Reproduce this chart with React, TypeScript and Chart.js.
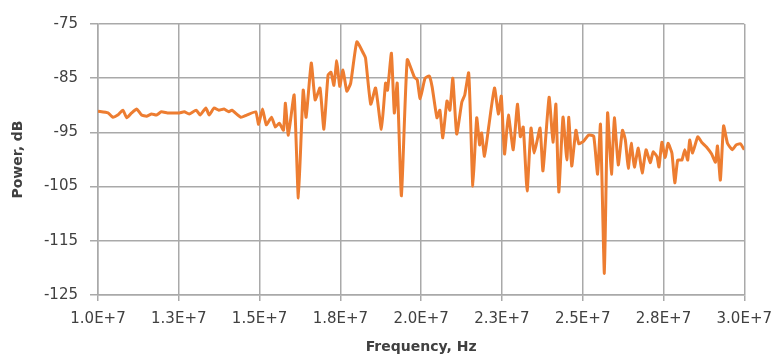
import React, { useEffect, useRef } from "react";
import { Chart, registerables } from "chart.js";

Chart.register(...registerables);

// Frequency in MHz
const freqMHz: number[] = [
  10.0, 10.31, 10.46, 10.61, 10.77, 10.89, 11.04, 11.2, 11.35, 11.5,
  11.66, 11.81, 11.96, 12.15, 12.36, 12.52, 12.67, 12.82, 13.04, 13.16,
  13.34, 13.44, 13.59, 13.74, 13.9, 14.05, 14.14, 14.42, 14.6, 14.88,
  14.97, 15.09, 15.21, 15.37, 15.49, 15.61, 15.74, 15.8, 15.89, 16.07,
  16.2, 16.35, 16.44, 16.6, 16.72, 16.87, 16.99, 17.12, 17.21, 17.3,
  17.39, 17.48, 17.58, 17.7, 17.82, 18.01, 18.22, 18.28, 18.44, 18.59,
  18.77, 18.9, 18.96, 19.08, 19.17, 19.26, 19.39, 19.57, 19.79, 19.88,
  19.97, 20.12, 20.25, 20.34, 20.49, 20.58, 20.67, 20.8, 20.89, 20.98,
  21.1, 21.26, 21.35, 21.47, 21.53, 21.6, 21.72, 21.81, 21.87, 21.96,
  22.09, 22.27, 22.39, 22.48, 22.58, 22.7, 22.85, 22.98, 23.07, 23.16,
  23.28, 23.4, 23.5, 23.68, 23.77, 23.96, 24.08, 24.17, 24.26, 24.39,
  24.51, 24.57, 24.66, 24.79, 24.88, 25.03, 25.18, 25.34, 25.46, 25.55,
  25.67, 25.77, 25.89, 25.98, 26.1, 26.23, 26.32, 26.41, 26.5, 26.6,
  26.72, 26.84, 26.96, 27.09, 27.18, 27.3, 27.36, 27.45, 27.55, 27.64,
  27.76, 27.85, 27.94, 28.07, 28.16, 28.25, 28.31, 28.4, 28.56, 28.68,
  28.83, 28.99, 29.11, 29.17, 29.26, 29.36, 29.48, 29.63, 29.75, 29.88,
  30.0,
];

// Power in dB
const powerDb: number[] = [
  -91.1, -91.4, -92.2, -91.8, -90.9, -92.3, -91.4, -90.7, -91.8, -92.0,
  -91.6, -91.8, -91.2, -91.4, -91.4, -91.4, -91.2, -91.6, -90.9, -91.8,
  -90.5, -91.8, -90.5, -90.9, -90.7, -91.2, -90.9, -92.2, -91.8, -91.2,
  -93.5, -90.7, -93.6, -92.2, -94.0, -93.3, -94.6, -89.6, -95.5, -88.1,
  -107.1, -87.2, -92.2, -82.2, -89.0, -86.8, -94.4, -84.4, -83.9, -86.3,
  -81.8, -86.5, -83.5, -87.4, -85.9, -78.3, -80.5, -81.3, -89.8, -86.8,
  -94.4, -85.9, -87.2, -80.4, -91.4, -85.9, -106.7, -81.6, -84.8, -85.3,
  -88.8, -85.0, -84.6, -86.6, -92.3, -90.9, -96.0, -89.2, -90.9, -85.0,
  -95.3, -89.4, -88.1, -84.0, -92.7, -104.9, -92.3, -97.3, -95.1, -99.4,
  -94.0, -86.8, -91.6, -88.3, -99.0, -91.8, -98.2, -89.8, -95.8, -94.0,
  -105.8, -94.2, -98.8, -94.2, -102.1, -88.5, -96.8, -89.8, -106.0, -92.2,
  -100.1, -92.2, -101.2, -94.6, -97.1, -96.6, -95.5, -95.7, -102.7, -93.5,
  -121.0, -91.4, -102.7, -92.3, -101.0, -94.6, -96.4, -101.6, -97.0, -101.4,
  -97.9, -102.5, -98.2, -100.6, -98.6, -99.5, -101.4, -96.8, -99.7, -97.0,
  -98.8, -104.3, -100.1, -100.1, -98.2, -100.1, -96.4, -98.8, -95.8, -96.8,
  -97.7, -99.0, -100.5, -97.5, -103.8, -93.8, -97.0, -98.2, -97.3, -97.1,
  -98.2,
];

const xTickLabels: string[] = [
  "1.0E+7", "1.3E+7", "1.5E+7", "1.8E+7", "2.0E+7",
  "2.3E+7", "2.5E+7", "2.8E+7", "3.0E+7",
];
const yTickLabels: string[] = ["-125", "-115", "-105", "-95", "-85", "-75"];

const X_MIN = 1e7;
const X_MAX = 3e7;
const X_STEP = 2.5e6;
const Y_MIN = -125;
const Y_MAX = -75;
const Y_STEP = 10;

export default function App() {
  const ref = useRef<HTMLCanvasElement | null>(null);

  useEffect(() => {
    document.body.style.margin = "0";
    if (!ref.current) return;
    const points = freqMHz.map((f, i) => ({ x: f * 1e6, y: powerDb[i] }));
    const gridColor = "#a9a9a9";
    const chart = new Chart(ref.current, {
      type: "line",
      data: {
        datasets: [
          {
            data: points,
            borderColor: "#ED7D31",
            backgroundColor: "#ED7D31",
            borderWidth: 3,
            pointRadius: 0,
            tension: 0.15,
            fill: false,
          },
        ],
      },
      options: {
        animation: false,
        responsive: false,
        parsing: false as any,
        layout: { padding: { left: 0, right: 31, top: 24, bottom: 0 } },
        plugins: { legend: { display: false }, tooltip: { enabled: false } },
        scales: {
          x: {
            type: "linear",
            min: X_MIN,
            max: X_MAX,
            afterFit: (s: any) => {
              s.height = 63;
            },
            ticks: {
              stepSize: X_STEP,
              maxRotation: 0,
              autoSkip: false,
              padding: 9,
              color: "#404040",
              font: { family: "DejaVu Sans", size: 15 },
              callback: (_v: any, i: number) => xTickLabels[i],
            },
            grid: { color: gridColor, lineWidth: 1.5, tickLength: 6 },
            border: { color: gridColor, width: 1.5 },
            title: {
              display: true,
              text: "Frequency, Hz",
              color: "#404040",
              font: { family: "DejaVu Sans", size: 14, weight: "bold" },
              padding: { top: 0, bottom: 2 },
            },
          },
          y: {
            type: "linear",
            min: Y_MIN,
            max: Y_MAX,
            afterFit: (s: any) => {
              s.width = 98;
            },
            ticks: {
              stepSize: Y_STEP,
              padding: 12,
              color: "#404040",
              font: { family: "DejaVu Sans", size: 15 },
              callback: (_v: any, i: number) => yTickLabels[i],
            },
            grid: { color: gridColor, lineWidth: 1.5, tickLength: 8 },
            border: { color: gridColor, width: 1.5 },
            title: {
              display: true,
              text: "Power, dB",
              color: "#404040",
              font: { family: "DejaVu Sans", size: 14, weight: "bold" },
              padding: { top: 10, bottom: 0 },
            },
          },
        },
      },
    });
    return () => chart.destroy();
  }, []);

  return (
    <div style={{ width: 781, height: 358, background: "#fff" }}>
      <canvas ref={ref} width={781} height={358} />
    </div>
  );
}
